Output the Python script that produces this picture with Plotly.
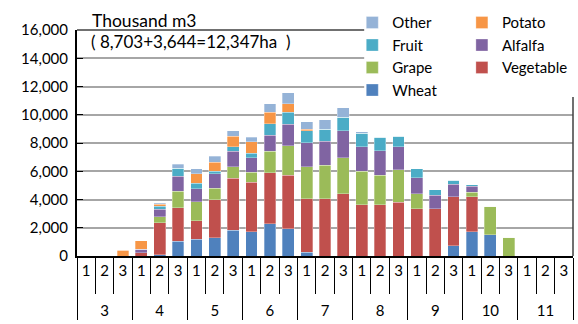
import plotly.graph_objects as go

months = ["3", "4", "5", "6", "7", "8", "9", "10", "11"]
decades = ["1", "2", "3"]

wheat     = [0, 0, 0, 0, 80, 1050, 1170, 1290, 1830, 1730, 2300, 1920, 250, 0, 0, 0, 0, 0, 0, 0, 720, 1730, 1520, 0, 0, 0, 0]
vegetable = [0, 0, 0, 220, 2290, 2380, 1320, 2710, 3680, 3500, 3610, 3800, 3800, 4050, 4400, 3620, 3620, 3810, 3340, 3340, 3490, 2480, 0, 0, 0, 0, 0]
grape     = [0, 0, 0, 0, 400, 1160, 1340, 780, 800, 700, 1490, 2100, 2260, 2360, 2570, 2380, 2100, 2290, 1060, 0, 0, 290, 2010, 1330, 0, 0, 0]
alfalfa   = [0, 0, 0, 250, 550, 1060, 920, 1040, 1110, 1020, 1150, 1510, 1700, 1700, 1890, 1730, 1730, 1630, 1140, 960, 870, 440, 0, 0, 0, 0, 0]
fruit     = [0, 0, 0, 0, 200, 570, 400, 180, 330, 330, 810, 850, 850, 850, 970, 970, 940, 750, 650, 390, 270, 120, 0, 0, 0, 0, 0]
potato    = [0, 0, 400, 600, 130, 0, 670, 640, 730, 800, 820, 590, 100, 0, 0, 0, 0, 0, 0, 0, 0, 0, 0, 0, 0, 0, 0]
other     = [0, 0, 0, 0, 100, 280, 370, 430, 380, 310, 590, 780, 560, 680, 660, 110, 0, 0, 0, 0, 0, 0, 0, 0, 0, 0, 0]

series = [
    ("Wheat", wheat, "#4F81BD", "legend"),
    ("Vegetable", vegetable, "#C0504D", "legend2"),
    ("Grape", grape, "#9BBB59", "legend"),
    ("Alfalfa", alfalfa, "#8064A2", "legend2"),
    ("Fruit", fruit, "#4BACC6", "legend"),
    ("Potato", potato, "#F79646", "legend2"),
    ("Other", other, "#95B3D7", "legend"),
]

# outer (month) labels get a leading line break so they sit lower, as in the reference
x_outer = ["<br>" + m for m in months for d in decades]
x_inner = [d for m in months for d in decades]

FONT = "Lato"

fig = go.Figure()
for name, vals, color, leg in series:
    fig.add_trace(go.Bar(
        x=[x_outer, x_inner], y=vals, name=name, legend=leg,
        marker=dict(color=color, line=dict(color="rgba(255,255,255,0.6)", width=0.5)),
    ))

fig.update_layout(
    width=578, height=324,
    margin=dict(l=77, r=5, t=30, b=68, autoexpand=False),
    barmode="stack", bargap=0.36,
    plot_bgcolor="white", paper_bgcolor="white",
    font=dict(family=FONT, size=14, color="black"),
    showlegend=True,
    legend=dict(x=0.555, xanchor="left", y=1.105, yanchor="top",
                traceorder="reversed", bgcolor="rgba(0,0,0,0)",
                font=dict(family=FONT, size=15), borderwidth=0),
    legend2=dict(x=0.776, xanchor="left", y=1.105, yanchor="top",
                 traceorder="reversed", bgcolor="rgba(0,0,0,0)",
                 font=dict(family=FONT, size=15), borderwidth=0),
)

fig.update_yaxes(range=[0, 16000], dtick=2000, tickformat=",d",
                 showgrid=True, gridcolor="#A6A6A6", gridwidth=1.5,
                 showline=True, linecolor="black", linewidth=2,
                 ticks="inside", ticklen=6, tickcolor="black",
                 ticklabelstandoff=4, zeroline=False, automargin=False,
                 tickfont=dict(family=FONT, size=15))
fig.update_xaxes(type="multicategory", showline=True, linecolor="black", linewidth=2,
                 tickmode="linear", dtick=1, automargin=False,
                 ticks="outside", tickson="boundaries", ticklen=36, tickcolor="black",
                 showdividers=True, dividercolor="black", dividerwidth=1,
                 tickfont=dict(family=FONT, size=15), showgrid=False)

# white cover behind legends + plot frame parts
fig.add_shape(type="rect", xref="paper", yref="paper", x0=0.579, x1=1.05, y0=0.703, y1=1.2,
              fillcolor="white", line=dict(width=0), layer="above")
fig.add_shape(type="line", xref="paper", yref="paper", x0=0, x1=0.579, y0=1, y1=1,
              line=dict(color="#404040", width=1.5), layer="above")
fig.add_shape(type="line", xref="paper", yref="paper", x0=1, x1=1, y0=0, y1=0.703,
              line=dict(color="#404040", width=1.5), layer="above")

fig.add_annotation(text="Thousand m3", xref="paper", yref="paper", x=0.026, y=1.042,
                   xanchor="left", yanchor="middle", showarrow=False,
                   font=dict(family=FONT, size=17.5))
fig.add_annotation(text="( 8,703+3,644=12,347ha&nbsp;&nbsp;)", xref="paper", yref="paper", x=0.024, y=0.948,
                   xanchor="left", yanchor="middle", showarrow=False,
                   font=dict(family=FONT, size=17))

fig.write_html("out.html", config={"displayModeBar": False},
               post_script="document.body.style.margin='0';")
